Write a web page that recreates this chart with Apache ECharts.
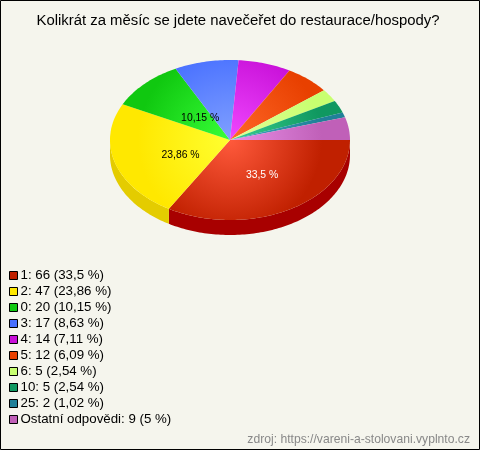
<!DOCTYPE html>
<html><head><meta charset="utf-8">
<style>html,body{margin:0;padding:0;background:#f5f5ed}#c{width:480px;height:450px}</style>
<script src="https://cdn.jsdelivr.net/npm/echarts@6/dist/echarts.min.js"></script>
</head><body><div id="c"></div>
<script>
const chartTitle = 'Kolikrát za měsíc se jdete navečeřet do restaurace/hospody?';
const sourceNote = 'zdroj: https://vareni-a-stolovani.vyplnto.cz';
const answers = ['1','2','0','3','4','5','6','10','25','Ostatní odpovědi'];
const counts = [66,47,20,17,14,12,5,5,2,9];
const percents = ['33,5','23,86','10,15','8,63','7,11','6,09','2,54','2,54','1,02','5'];
const baseColors = ['#c02000','#ffe800','#10c810','#4870ff','#c810d8','#e84000','#c8ff70','#109860','#208098','#c060b8'];
const lightColors = ['#ff5a3c','#ffff30','#38ff38','#80a0ff','#f048ff','#ff6828','#e0ff98','#38d090','#40a8c0','#e890e8'];
const wallColors = ['#a80000','#e4cc00','#0a9a0a','#3050c0','#980aa8','#b03000','#98c050','#0a7048','#105868','#904088'];
const labelColors = ['#fff','#000','#000'];
// radial placement of the in-slice labels (share of the radius, x and y)
const labelFracX = [0.54,0.43,0.35];
const labelFracY = [0.51,0.66,0.39];

const CX=230, CY=140, RX=120, RY=80, DEPTH=15, FONT='"Liberation Sans", Arial, sans-serif';
const total = counts.reduce((a,b)=>a+b,0);
const starts = []; counts.reduce((a,v,i)=>(starts[i]=a, a+v),0);
const ang = v => v/total*Math.PI*2;
const pt = (t,dy=0)=>[CX+RX*Math.cos(t), CY+RY*Math.sin(t)+dy];
function arc(a,b,dy=0){const p=[];const n=Math.max(2,Math.ceil((b-a)/0.02));for(let k=0;k<=n;k++)p.push(pt(a+(b-a)*k/n,dy));return p;}

function topItem(i){
  return ()=>{
    const a=ang(starts[i]), b=ang(starts[i]+counts[i]);
    const children=[{type:'polygon',shape:{points:[[CX,CY],...arc(a,b)]},
      style:{fill:{type:'radial',x:CX,y:CY,r:92,global:true,colorStops:[{offset:0,color:lightColors[i]},{offset:1,color:baseColors[i]}]}}}];
    if(i<labelColors.length){
      const m=(a+b)/2;
      children.push({type:'text',z2:10,style:{x:CX+RX*labelFracX[i]*Math.cos(m),y:CY+RY*labelFracY[i]*Math.sin(m),
        text:percents[i]+' %',fill:labelColors[i],font:'10.4px '+FONT,align:'center',verticalAlign:'middle'}});
    }
    return {type:'group',children};
  };
}
function wallItem(i){
  return ()=>{
    const a=ang(starts[i]), b=Math.min(ang(starts[i]+counts[i]),Math.PI);
    if(a>=Math.PI) return {type:'group',children:[]};
    return {type:'polygon',shape:{points:[...arc(a,b),...arc(a,b,DEPTH).reverse()]},style:{fill:wallColors[i]}};
  };
}
const names = answers.map((a,i)=>`${a}: ${counts[i]} (${percents[i]} %)`);
const series=[];
names.forEach((n,i)=>{
  series.push({type:'custom',name:n,coordinateSystem:'none',z:2,silent:true,data:[[counts[i]]],renderItem:wallItem(i),itemStyle:{color:baseColors[i]},animation:false});
  series.push({type:'custom',name:n,coordinateSystem:'none',z:3,silent:true,data:[[counts[i]]],renderItem:topItem(i),itemStyle:{color:baseColors[i]},animation:false});
});
const chart=echarts.init(document.getElementById('c'),null,{renderer:'canvas'});
chart.setOption({
  animation:false,
  backgroundColor:'#f5f5ed',
  title:[
    {text:chartTitle,left:233,top:8,textAlign:'center',textStyle:{fontFamily:FONT,fontSize:14.9,fontWeight:'normal',color:'#000'}},
    {text:sourceNote,right:5,top:429,textStyle:{fontFamily:FONT,fontSize:12.15,fontWeight:'normal',color:'#888'}}
  ],
  legend:{orient:'vertical',left:9,top:269,itemWidth:8,itemHeight:8,itemGap:3,selectedMode:false,padding:0,
    data:names,icon:'rect',
    itemStyle:{borderColor:'#000',borderWidth:1},
    textStyle:{fontFamily:FONT,fontSize:13.3,color:'#000',padding:[0,0,0,-2],lineHeight:13}},
  graphic:[{type:'rect',silent:true,z:100,shape:{x:0.5,y:0.5,width:479,height:449},style:{fill:'none',stroke:'#000',lineWidth:1}}],
  series
});
</script></body></html>
